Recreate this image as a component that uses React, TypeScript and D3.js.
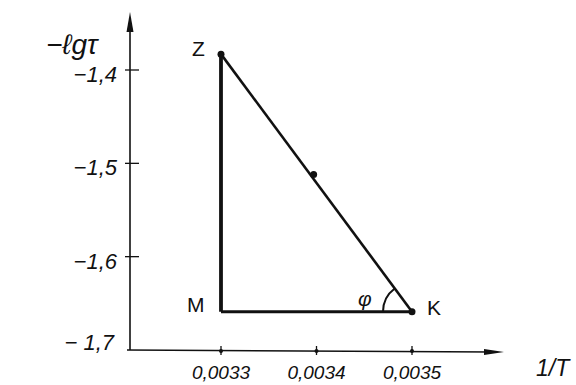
import React from 'react';
import * as d3 from 'd3';

const xTicks = [0.0033, 0.0034, 0.0035];
const xTickLabels = ['0,0033', '0,0034', '0,0035'];
const yTicks = [-1.4, -1.5, -1.6, -1.7];
const yTickLabels = ['−1,4', '−1,5', '−1,6', '− 1,7'];

// triangle vertices and the measured point on the hypotenuse
const vertexNames = ['Z', 'M', 'K'];
const vertexX = [0.0033, 0.0033, 0.0035];
const vertexY = [-1.383, -1.659, -1.659];
const midPoint = { x: 0.003397, y: -1.512 };

const W = 576;
const H = 385;
const axisX = 130;
const axisY = 350;
const font = '"Liberation Sans", "DejaVu Sans", sans-serif';

export default function App() {
  const x = d3.scaleLinear().domain([0.0033, 0.0035]).range([221, 412]);
  const y = d3.scaleLinear().domain([-1.7, -1.4]).range([axisY, 70]);

  const pts = vertexNames.map((n, i) => ({ name: n, px: x(vertexX[i]), py: y(vertexY[i]) }));
  const [Z, M, K] = pts;

  const lineGen = d3.line<[number, number]>();

  // angle phi at K, between KM and KZ (d3.arc angles: 0 = up, clockwise)
  const a0 = Math.atan2(Z.px - K.px, -(Z.py - K.py));
  const a1 = Math.atan2(M.px - K.px, -(M.py - K.py));
  const arcPath = d3.arc()({
    innerRadius: 29,
    outerRadius: 29,
    startAngle: Math.min(a0, a1),
    endAngle: Math.max(a0, a1),
  } as any);

  return (
    <svg width={W} height={H} style={{ position: 'absolute', left: 0, top: 0, background: '#fff' }}>
      {/* axes */}
      <line x1={axisX} y1={axisY} x2={axisX} y2={22} stroke="#111" strokeWidth={1.6} />
      <path d={`M${axisX},12 L${axisX - 3.5},32 L${axisX + 3.5},32 Z`} fill="#111" />
      <line x1={axisX - 3} y1={axisY} x2={492} y2={axisY + 2} stroke="#111" strokeWidth={1.5} />
      <path d={`M504,${axisY + 2} L484,${axisY - 1} L484,${axisY + 5} Z`} fill="#111" />

      {/* y ticks */}
      {yTicks.map((t, i) => (
        <g key={t}>
          {i < 3 && (
            <line x1={axisX - 5} x2={axisX + 9} y1={y(t)} y2={y(t)} stroke="#111" strokeWidth={1.3} />
          )}
          <text
            x={i === 3 ? 114 : 117}
            y={y(t) + (i === 3 ? 0 : 12)}
            textAnchor="end"
            fontFamily={font}
            fontStyle="italic"
            fontSize={22}
            fill="#111"
          >
            {yTickLabels[i]}
          </text>
        </g>
      ))}

      {/* x ticks */}
      {xTicks.map((t, i) => (
        <g key={t}>
          <line x1={x(t)} x2={x(t)} y1={axisY - 4} y2={axisY + 5} stroke="#111" strokeWidth={1.3} />
          <circle cx={x(t)} cy={axisY + 1} r={2} fill="#111" />
          <text
            x={x(t)}
            y={axisY + 29}
            textAnchor="middle"
            fontFamily={font}
            fontStyle="italic"
            fontSize={19}
            fill="#111"
          >
            {xTickLabels[i]}
          </text>
        </g>
      ))}

      {/* axis titles */}
      <text x={46} y={54} fontFamily={font} fontStyle="italic" fontSize={28} fill="#111">
        −ℓgτ
      </text>
      <text x={536} y={376} fontFamily={font} fontStyle="italic" fontSize={23} fill="#111">
        1/T
      </text>

      {/* triangle */}
      <path d={lineGen([[Z.px, Z.py], [M.px, M.py]]) || ''} stroke="#111" strokeWidth={3.8} fill="none" />
      <path d={lineGen([[M.px, M.py], [K.px, K.py]]) || ''} stroke="#111" strokeWidth={3} fill="none" />
      <path d={lineGen([[Z.px, Z.py], [K.px, K.py]]) || ''} stroke="#111" strokeWidth={2.6} fill="none" />
      {[Z, K].map(p => (
        <circle key={p.name} cx={p.px} cy={p.py} r={3.5} fill="#111" />
      ))}
      <circle cx={x(midPoint.x)} cy={y(midPoint.y)} r={3.5} fill="#111" />

      {/* angle */}
      <path d={arcPath || ''} transform={`translate(${K.px},${K.py})`} stroke="#111" strokeWidth={2} fill="none" />
      <text x={358} y={306} fontFamily={font} fontStyle="italic" fontSize={21} fill="#111">
        φ
      </text>

      {/* vertex labels */}
      <text x={Z.px - 29} y={Z.py + 2} fontFamily={font} fontSize={21} fill="#111">
        {Z.name}
      </text>
      <text x={M.px - 34} y={M.py} fontFamily={font} fontSize={21} fill="#111">
        {M.name}
      </text>
      <text x={K.px + 15} y={K.py + 3} fontFamily={font} fontSize={21} fill="#111">
        {K.name}
      </text>
    </svg>
  );
}
